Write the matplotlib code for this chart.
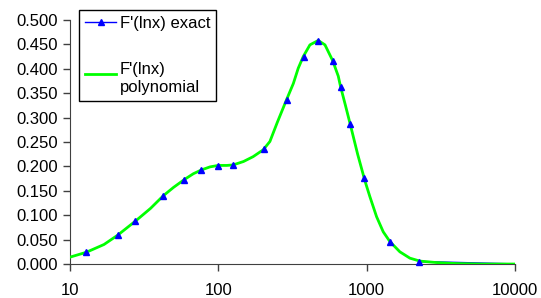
import matplotlib.pyplot as plt
from matplotlib.legend_handler import HandlerLine2D
from matplotlib.lines import Line2D

plt.rcParams['font.family'] = ['Liberation Sans', 'DejaVu Sans']

# F'(lnx) exact
x_exact = [12.9, 21.0, 27.7, 42.7, 59.1, 76.9, 100, 126, 203, 289, 376, 472, 590, 668, 776, 964, 1436, 2260, 10000]
y_exact = [0.024, 0.059, 0.088, 0.140, 0.173, 0.193, 0.201, 0.203, 0.235, 0.337, 0.425, 0.456, 0.415, 0.363, 0.286, 0.176, 0.046, 0.005, 0.000]

# F'(lnx) polynomial - curve
x_poly = [10, 12.9, 17, 21, 27.7, 35, 42.7, 50, 59.1, 68, 77.4, 88, 100, 114, 126, 148, 172, 201, 223,
          250, 289, 321, 346, 374, 415, 472, 524, 590, 644, 668, 720, 776, 870, 975, 1052, 1167, 1294,
          1435, 1675, 1958, 2286, 2958, 4000, 6000, 10000]
y_poly = [0.014, 0.024, 0.040, 0.059, 0.088, 0.114, 0.140, 0.157, 0.173, 0.185, 0.193, 0.199, 0.202,
          0.202, 0.203, 0.210, 0.220, 0.234, 0.251, 0.290, 0.337, 0.370, 0.401, 0.425, 0.449, 0.458,
          0.449, 0.417, 0.385, 0.363, 0.325, 0.286, 0.225, 0.170, 0.138, 0.097, 0.066, 0.046, 0.025,
          0.012, 0.006, 0.003, 0.001, 0.000, 0.000]

yticks = [0.0, 0.05, 0.1, 0.15, 0.2, 0.25, 0.3, 0.35, 0.4, 0.45, 0.5]
xticks = [10, 100, 1000, 10000]


class FirstLineHandler(HandlerLine2D):
    # put the legend line level with the first text line
    def create_artists(self, legend, orig_handle, xdescent, ydescent, width, height, fontsize, trans):
        return super().create_artists(legend, orig_handle, xdescent, ydescent - 0.6 * fontsize,
                                      width, height, fontsize, trans)


fig = plt.figure(figsize=(5.41, 2.98), dpi=100)
ax = fig.add_axes([0.129, 0.114, 0.823, 0.819])

blue = '#0000FF'
green = '#00FF00'
# exact series: tail line visible under the curve, markers on top
ax.plot(x_exact[-2:], y_exact[-2:], color=blue, lw=1.2, zorder=2)
ax.plot(x_poly, y_poly, color=green, lw=2, zorder=3)
ax.plot(x_exact[:-1], y_exact[:-1], ls='none', color=blue, marker='^', ms=4.8, zorder=4, clip_on=False)

ax.set_xscale('log')
ax.set_xlim(10, 10000)
ax.set_ylim(0, 0.5)
ax.set_xticks(xticks)
ax.set_xticklabels([str(v) for v in xticks])
ax.minorticks_off()
ax.set_yticks(yticks)
ax.set_yticklabels(['%.3f' % v for v in yticks])
ax.tick_params(labelsize=12, length=5, width=1, color='#404040', direction='out')
ax.tick_params(axis='x', pad=9)

for s in ['top', 'right']:
    ax.spines[s].set_visible(False)
for s in ['left', 'bottom']:
    ax.spines[s].set_color('#404040')

h_exact = Line2D([], [], color=blue, lw=1, marker='^', ms=4.5)
h_poly = Line2D([], [], color=green, lw=2)
leg = ax.legend([h_exact, h_poly], ["F'(lnx) exact", "F'(lnx)\npolynomial"],
                handler_map={h_poly: FirstLineHandler()},
                loc='upper left', bbox_to_anchor=(79 / 541, 1 - 10 / 298), bbox_transform=fig.transFigure,
                borderaxespad=0, fontsize=12, fancybox=False, framealpha=1, edgecolor='black',
                handlelength=1.9, handletextpad=0.2, labelspacing=1.9, borderpad=0.35)
leg.get_frame().set_linewidth(1)

fig.savefig('out.png', dpi=100)
